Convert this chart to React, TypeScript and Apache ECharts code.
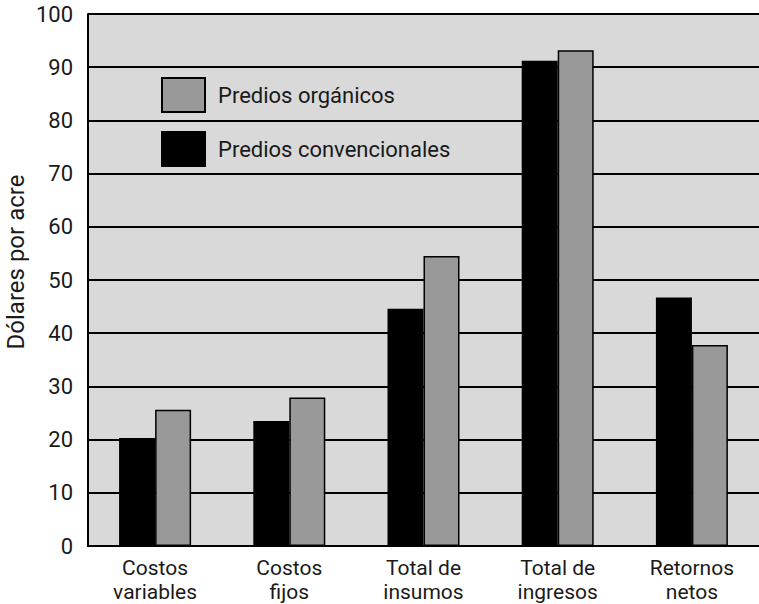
import React, { useEffect, useRef } from "react";
import * as echarts from "echarts";

const categories = ["Costos\nvariables", "Costos\nfijos", "Total de\ninsumos", "Total de\ningresos", "Retornos\nnetos"];
const convencionales = [20.3, 23.5, 44.6, 91.2, 46.7];
const organicos = [25.6, 27.9, 54.5, 93.2, 37.8];
const yTicks = { min: 0, max: 100, interval: 10 };
const FONT = "Roboto";
const TEXT = "#1a1a1a";

export default function App() {
  const ref = useRef<HTMLDivElement>(null);
  useEffect(() => {
    if (!ref.current) return;
    const chart = echarts.init(ref.current, undefined, { renderer: "svg" });
    chart.setOption({
      animation: false,
      backgroundColor: "#ffffff",
      textStyle: { fontFamily: FONT },
      grid: {
        left: 88,
        right: 0,
        top: 14,
        bottom: 57,
        show: true,
        backgroundColor: "#d9d9d9",
        borderWidth: 0,
      },
      legend: {
        orient: "vertical",
        left: 161,
        top: 77,
        padding: 0,
        itemWidth: 43,
        itemHeight: 34,
        itemGap: 18,
        icon: "rect",
        data: ["Predios orgánicos", "Predios convencionales"],
        textStyle: { fontSize: 22, color: TEXT, fontFamily: FONT, padding: [0, 0, 0, 8] },
      },
      graphic: [
        {
          type: "text",
          x: 16,
          y: 262,
          rotation: Math.PI / 2,
          style: {
            text: "Dólares por acre",
            fontSize: 24,
            fontFamily: FONT,
            fill: TEXT,
            align: "center",
            verticalAlign: "middle",
          },
        },
      ],
      xAxis: {
        type: "category",
        data: categories,
        axisLine: { show: true, lineStyle: { color: "#000", width: 2 } },
        axisTick: { show: false },
        axisLabel: {
          fontSize: 21,
          lineHeight: 24,
          color: TEXT,
          fontFamily: FONT,
          margin: 10,
          interval: 0,
        },
      },
      yAxis: {
        type: "value",
        min: yTicks.min,
        max: yTicks.max,
        interval: yTicks.interval,
        axisLine: { show: true, lineStyle: { color: "#000", width: 2 } },
        axisTick: { show: false },
        axisLabel: { fontSize: 22, color: TEXT, fontFamily: FONT, margin: 15 },
        splitLine: { show: true, lineStyle: { color: "#000", width: 2 } },
      },
      series: [
        {
          name: "Predios convencionales",
          type: "bar",
          data: convencionales,
          barWidth: 36,
          barGap: "0%",
          itemStyle: { color: "#000000", borderColor: "#000", borderWidth: 1.5 },
        },
        {
          name: "Predios orgánicos",
          type: "bar",
          data: organicos,
          barWidth: 36,
          barGap: "0%",
          itemStyle: { color: "#999999", borderColor: "#000", borderWidth: 1.5 },
        },
      ],
    });
    return () => chart.dispose();
  }, []);
  return (
    <div
      ref={ref}
      style={{ position: "fixed", left: 0, top: 0, width: 759, height: 604 }}
    />
  );
}
